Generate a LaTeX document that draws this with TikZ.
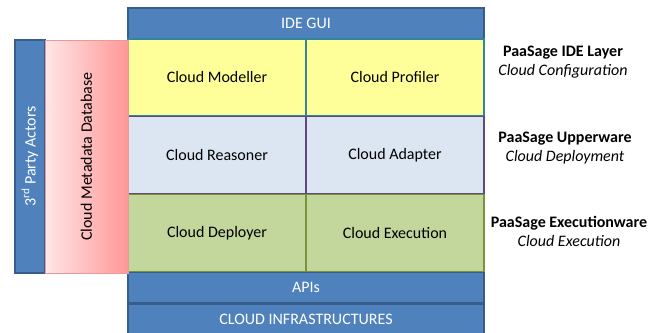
\documentclass[tikz,border=0pt]{standalone}
\usepackage{fontspec}
\setmainfont{Carlito}
\usepackage{xcolor}
\definecolor{barblue}{HTML}{4F81BD}
\definecolor{barline}{HTML}{385D8A}
\definecolor{ideyellow}{HTML}{FFFF99}
\definecolor{ideline}{HTML}{31859C}
\definecolor{upblue}{HTML}{DCE6F2}
\definecolor{upline}{HTML}{604A7B}
\definecolor{exgreen}{HTML}{C3D69B}
\definecolor{exline}{HTML}{77933C}
\definecolor{dbpink}{HTML}{FFE6E6}
\definecolor{dbred}{HTML}{FF9797}
\definecolor{dbline}{HTML}{E39B9B}

\begin{document}
\begin{tikzpicture}[x=1pt,y=-1pt,
  every node/.style={font=\fontsize{16}{19}\selectfont,inner sep=0pt},
  bar/.style={draw=barline,fill=barblue,text=white,line width=1.5pt,
    minimum width=356pt},
  cell/.style={line width=1.2pt,minimum width=178pt,minimum height=77pt},
  layer/.style={align=center,text=black}]
  \useasboundingbox (0,0) rectangle (658,332);

  \node[bar,minimum height=31pt] (gui) at (306,23.5) {IDE GUI};
  \node[bar,minimum height=30pt] (apis) at (306,287.5) {APIs};
  \node[bar,minimum height=31pt] (infra) at (306,319.5) {CLOUD INFRASTRUCTURES};

  \node[cell,draw=ideline,fill=ideyellow] (modeller) at (217,77.5) {Cloud Modeller};
  \node[cell,draw=ideline,fill=ideyellow] (profiler) at (395,77.5) {Cloud Profiler};
  \node[cell,draw=upline,fill=upblue] (reasoner) at (217,155) {Cloud Reasoner};
  \node[cell,draw=upline,fill=upblue] (adapter) at (395,155) {Cloud Adapter};
  \node[cell,draw=exline,fill=exgreen] (deployer) at (217,233) {Cloud Deployer};
  \node[cell,draw=exline,fill=exgreen] (execution) at (395,233) {Cloud Execution};

  \node[draw=barline,fill=barblue,text=white,line width=1.5pt,rotate=90,
    minimum width=233pt,minimum height=30pt] (actors) at (30,156.5)
    {3\textsuperscript{rd} Party Actors};
  \node[draw=dbline,left color=dbpink,right color=dbred,line width=1pt,rotate=90,
    minimum width=233pt,minimum height=83pt] (metadb) at (86.5,156.5)
    {Cloud Metadata Database};

  \node[layer] (idelayer) at (563,62) {\textbf{PaaSage IDE Layer}\\\textit{Cloud Configuration}};
  \node[layer] (upperware) at (565,148) {\textbf{PaaSage Upperware}\\\textit{Cloud Deployment}};
  \node[layer] (execware) at (569,231) {\textbf{PaaSage Executionware}\\\textit{Cloud Execution}};
\end{tikzpicture}
\end{document}
